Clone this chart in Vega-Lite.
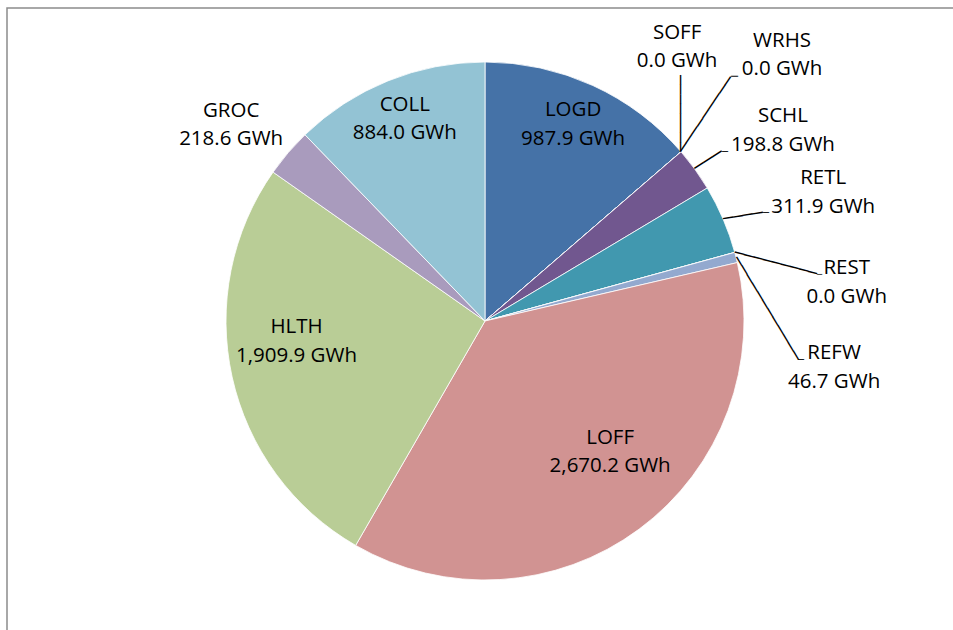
{
  "$schema": "https://vega.github.io/schema/vega-lite/v6.json",
  "description": "Energieverbrauch nach Gebäudetyp (GWh)",
  "width": 956,
  "height": 626,
  "autosize": "none",
  "padding": {"left": 7, "top": 8, "right": -10, "bottom": -4},
  "layer": [
    {
      "data": {"values": [{}]},
      "mark": {"type": "rect", "fill": "transparent", "stroke": "#8c8c8c", "strokeWidth": 1.5},
      "encoding": {}
    },
    {
      "data": {
        "values": [
          {"name": "LOGD", "value": 987.9},
          {"name": "SOFF", "value": 0.0},
          {"name": "WRHS", "value": 0.0},
          {"name": "SCHL", "value": 198.8},
          {"name": "RETL", "value": 311.9},
          {"name": "REST", "value": 0.0},
          {"name": "REFW", "value": 46.7},
          {"name": "LOFF", "value": 2670.2},
          {"name": "HLTH", "value": 1909.9},
          {"name": "GROC", "value": 218.6},
          {"name": "COLL", "value": 884.0}
        ]
      },
      "transform": [
        {"window": [{"op": "row_number", "as": "i"}]},
        {"calculate": "[datum.name, format(datum.value, ',.1f') + ' GWh']", "as": "label"}
      ],
      "encoding": {
        "theta": {"field": "value", "type": "quantitative", "stack": true},
        "order": {"field": "i", "type": "quantitative"},
        "detail": {"field": "name", "type": "nominal"},
        "color": {
          "field": "name",
          "type": "nominal",
          "legend": null,
          "scale": {
            "domain": ["LOGD", "SOFF", "WRHS", "SCHL", "RETL", "REST", "REFW", "LOFF", "HLTH", "GROC", "COLL"],
            "range": ["#4572A7", "#8A8A8A", "#AAAAAA", "#71578F", "#4198AF", "#DB843D", "#93A9CF", "#D19392", "#B9CD96", "#A99BBD", "#93C3D4"]
          }
        }
      },
      "layer": [
        {"mark": {"type": "arc", "radius": 259, "stroke": "white", "strokeWidth": 0.8}},

        {"mark": {"type": "text", "radius": 190, "align": "center", "baseline": "alphabetic", "dx": 9, "dy": -32},
         "encoding": {"color": {"value": "black"}, "text": {"condition": {"test": "datum.name === 'LOGD'", "field": "label"}, "value": ""}}},
        {"mark": {"type": "text", "radius": 190, "align": "center", "baseline": "alphabetic", "dx": 12, "dy": -30},
         "encoding": {"color": {"value": "black"}, "text": {"condition": {"test": "datum.name === 'LOFF'", "field": "label"}, "value": ""}}},
        {"mark": {"type": "text", "radius": 190, "align": "center", "baseline": "alphabetic", "dx": -3, "dy": -29},
         "encoding": {"color": {"value": "black"}, "text": {"condition": {"test": "datum.name === 'HLTH'", "field": "label"}, "value": ""}}},
        {"mark": {"type": "text", "radius": 190, "align": "center", "baseline": "alphabetic", "dx": -9, "dy": -34},
         "encoding": {"color": {"value": "black"}, "text": {"condition": {"test": "datum.name === 'COLL'", "field": "label"}, "value": ""}}},

        {"mark": {"type": "text", "radius": 259, "align": "center", "baseline": "alphabetic", "dx": -4, "dy": -113},
         "encoding": {"color": {"value": "black"}, "text": {"condition": {"test": "datum.name === 'SOFF'", "field": "label"}, "value": ""}}},
        {"mark": {"type": "text", "radius": 259, "align": "center", "baseline": "alphabetic", "dx": 101, "dy": -105},
         "encoding": {"color": {"value": "black"}, "text": {"condition": {"test": "datum.name === 'WRHS'", "field": "label"}, "value": ""}}},
        {"mark": {"type": "text", "radius": 259, "align": "center", "baseline": "alphabetic", "dx": 88, "dy": -47},
         "encoding": {"color": {"value": "black"}, "text": {"condition": {"test": "datum.name === 'SCHL'", "field": "label"}, "value": ""}}},
        {"mark": {"type": "text", "radius": 259, "align": "center", "baseline": "alphabetic", "dx": 100, "dy": -35},
         "encoding": {"color": {"value": "black"}, "text": {"condition": {"test": "datum.name === 'RETL'", "field": "label"}, "value": ""}}},
        {"mark": {"type": "text", "radius": 259, "align": "center", "baseline": "alphabetic", "dx": 112, "dy": 22},
         "encoding": {"color": {"value": "black"}, "text": {"condition": {"test": "datum.name === 'REST'", "field": "label"}, "value": ""}}},
        {"mark": {"type": "text", "radius": 259, "align": "center", "baseline": "alphabetic", "dx": 98, "dy": 102},
         "encoding": {"color": {"value": "black"}, "text": {"condition": {"test": "datum.name === 'REFW'", "field": "label"}, "value": ""}}},
        {"mark": {"type": "text", "radius": 259, "align": "center", "baseline": "alphabetic", "dx": -57, "dy": -36},
         "encoding": {"color": {"value": "black"}, "text": {"condition": {"test": "datum.name === 'GROC'", "field": "label"}, "value": ""}}},

        {"mark": {"type": "text", "radius": 259, "align": "left", "baseline": "middle", "angle": -90, "font": "DejaVu Sans Mono", "fontSize": 15.9},
         "encoding": {"color": {"value": "black"}, "text": {"condition": {"test": "datum.name === 'SOFF'", "value": "────────"}, "value": ""}}},
        {"mark": {"type": "text", "radius": 259, "align": "left", "baseline": "middle", "angle": -56.2, "font": "DejaVu Sans Mono", "fontSize": 16.6},
         "encoding": {"color": {"value": "black"}, "text": {"condition": {"test": "datum.name === 'WRHS'", "value": "─────────"}, "value": ""}}},
        {"mark": {"type": "text", "radius": 259, "align": "left", "baseline": "middle", "angle": -32.6, "font": "DejaVu Sans Mono", "fontSize": 17.8},
         "encoding": {"color": {"value": "black"}, "text": {"condition": {"test": "datum.name === 'SCHL'", "value": "───"}, "value": ""}}},
        {"mark": {"type": "text", "radius": 259, "align": "left", "baseline": "middle", "angle": -9, "font": "DejaVu Sans Mono", "fontSize": 16.7},
         "encoding": {"color": {"value": "black"}, "text": {"condition": {"test": "datum.name === 'RETL'", "value": "────"}, "value": ""}}},
        {"mark": {"type": "text", "radius": 259, "align": "left", "baseline": "middle", "angle": 14.7, "font": "DejaVu Sans Mono", "fontSize": 15.7},
         "encoding": {"color": {"value": "black"}, "text": {"condition": {"test": "datum.name === 'REST'", "value": "─────────"}, "value": ""}}},
        {"mark": {"type": "text", "radius": 259, "align": "left", "baseline": "middle", "angle": 58.9, "font": "DejaVu Sans Mono", "fontSize": 16.57},
         "encoding": {"color": {"value": "black"}, "text": {"condition": {"test": "datum.name === 'REFW'", "value": "────────────"}, "value": ""}}},

        {"mark": {"type": "text", "radius": 259, "align": "left", "baseline": "middle", "dx": 50, "dy": -74.7, "font": "DejaVu Sans Mono", "fontSize": 11.6},
         "encoding": {"color": {"value": "black"}, "text": {"condition": {"test": "datum.name === 'WRHS'", "value": "─"}, "value": ""}}},
        {"mark": {"type": "text", "radius": 259, "align": "left", "baseline": "middle", "dx": 27.1, "dy": -17.3, "font": "DejaVu Sans Mono", "fontSize": 10},
         "encoding": {"color": {"value": "black"}, "text": {"condition": {"test": "datum.name === 'SCHL'", "value": "─"}, "value": ""}}},
        {"mark": {"type": "text", "radius": 259, "align": "left", "baseline": "middle", "dx": 39.8, "dy": -6.3, "font": "DejaVu Sans Mono", "fontSize": 10},
         "encoding": {"color": {"value": "black"}, "text": {"condition": {"test": "datum.name === 'RETL'", "value": "─"}, "value": ""}}},
        {"mark": {"type": "text", "radius": 259, "align": "left", "baseline": "middle", "dx": 82.2, "dy": 21.6, "font": "DejaVu Sans Mono", "fontSize": 8.5},
         "encoding": {"color": {"value": "black"}, "text": {"condition": {"test": "datum.name === 'REST'", "value": "─"}, "value": ""}}},
        {"mark": {"type": "text", "radius": 259, "align": "left", "baseline": "middle", "dx": 61.9, "dy": 102.5, "font": "DejaVu Sans Mono", "fontSize": 10},
         "encoding": {"color": {"value": "black"}, "text": {"condition": {"test": "datum.name === 'REFW'", "value": "─"}, "value": ""}}}
      ]
    }
  ],
  "config": {
    "view": {"stroke": null},
    "text": {"font": "Open Sans", "fontSize": 20.5, "lineHeight": 28.5}
  }
}
